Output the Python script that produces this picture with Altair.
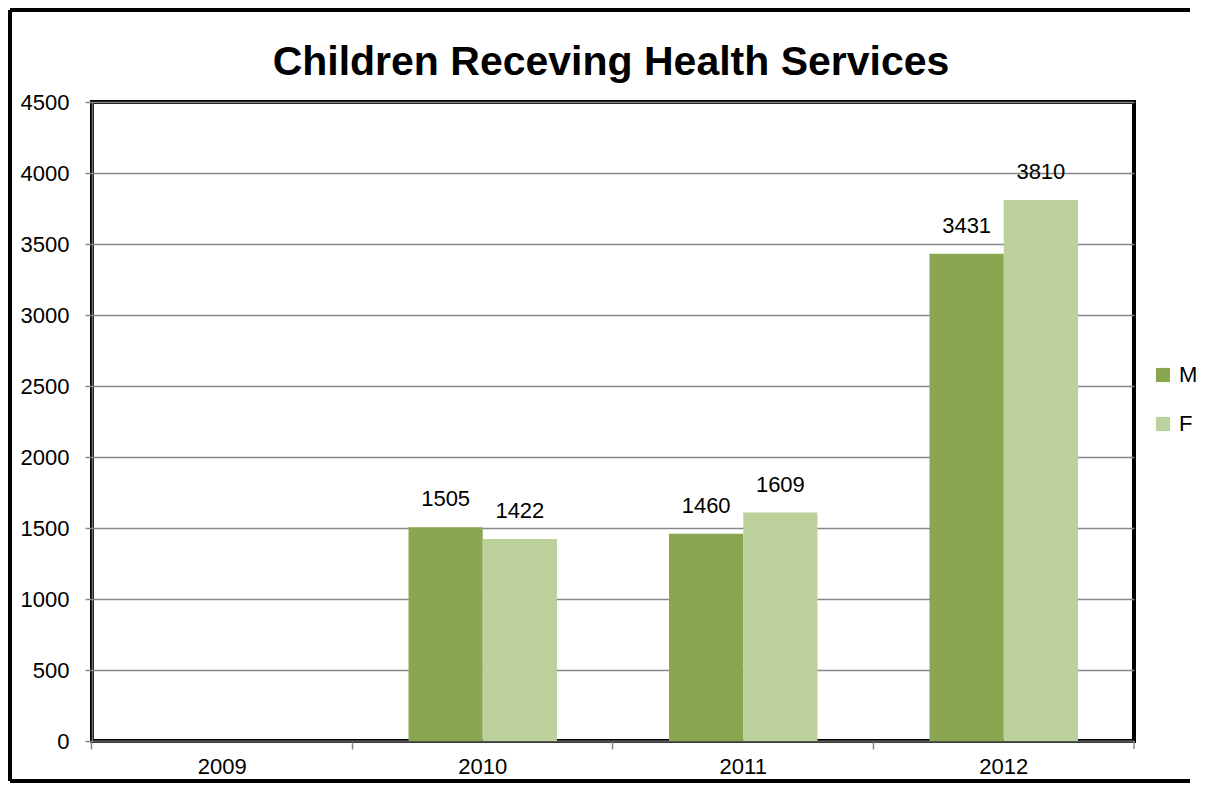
import altair as alt
import pandas as pd

years = ["2009", "2010", "2011", "2012"]
male = [0, 1505, 1460, 3431]
female = [0, 1422, 1609, 3810]
series = ["M", "F"]
colors = ["#8BA650", "#BBD09A"]
title_text = "Children Receving Health Services"

rows = []
for i, y in enumerate(years):
    rows.append({"year": y, "sex": "M", "value": male[i]})
    rows.append({"year": y, "sex": "F", "value": female[i]})
df = pd.DataFrame(rows)
labels_df = df[df["value"] > 0]

W, H = 1042, 639
FONT = "Liberation Sans"
PAD_IN = 0.43

x = alt.X("year:N", sort=years, title=None,
          scale=alt.Scale(paddingInner=PAD_IN, paddingOuter=PAD_IN / 2),
          axis=alt.Axis(labelAngle=0, labelFontSize=22, labelFont=FONT, labelColor="#000",
                        labelPadding=7, tickSize=8, tickColor="#888", tickWidth=1.5,
                        bandPosition=-(PAD_IN / 2) / (1 - PAD_IN), labelBound=False,
                        domainColor="#555", domainWidth=2, grid=False))
y = alt.Y("value:Q", title=None,
          scale=alt.Scale(domain=[0, 4500]),
          axis=alt.Axis(values=list(range(0, 4501, 500)), format="d", labelFontSize=22,
                        labelFont=FONT, labelColor="#000", labelPadding=16, tickSize=7,
                        tickColor="#888", tickWidth=1.5, domainColor="#777", domainWidth=1.5,
                        domainCap="square", gridColor="#888", gridWidth=1.5))
xoff = alt.XOffset("sex:N", sort=series)
color = alt.Color("sex:N", sort=series,
                  scale=alt.Scale(domain=series, range=colors),
                  legend=alt.Legend(title=None, orient="none", legendX=W + 18, legendY=262,
                                    symbolType="square", symbolSize=200, symbolStrokeWidth=0,
                                    labelFontSize=22, labelFont=FONT, labelColor="#000",
                                    rowPadding=27, labelOffset=5))

bars = alt.Chart(df).mark_bar(opacity=1).encode(x=x, y=y, xOffset=xoff, color=color)
text = alt.Chart(labels_df).mark_text(fontSize=22, font=FONT, color="#000",
                                      baseline="alphabetic", dy=-21).encode(
    x=x, y=y, xOffset=xoff, text=alt.Text("value:Q"))

one = pd.DataFrame({"t": [title_text]})
title = alt.Chart(one).mark_text(fontSize=41, font=FONT, fontWeight="bold", color="#000",
                                 baseline="alphabetic", align="center").encode(
    x=alt.value(W / 2 - 2), y=alt.value(-27), text="t:N")

frame = alt.Chart(one).mark_rule(color="#000", strokeWidth=4)
left = frame.encode(x=alt.value(-82), y=alt.value(-92), y2=alt.value(H + 40))
top = frame.encode(x=alt.value(-82), x2=alt.value(W + 56), y=alt.value(-92))
bottom = frame.encode(x=alt.value(-82), x2=alt.value(W + 56), y=alt.value(H + 40))
endtick = alt.Chart(one).mark_rule(color="#888", strokeWidth=1.5).encode(
    x=alt.value(W), y=alt.value(H), y2=alt.value(H + 8))

chart = alt.layer(bars, text, title, left, top, bottom, endtick).properties(
    width=W, height=H, background="white",
    padding={"left": 0, "top": 0, "right": 0, "bottom": 0},
).configure_view(stroke="#000", strokeWidth=4)

chart.save("out.html", embed_options={"renderer": "svg", "actions": False})
